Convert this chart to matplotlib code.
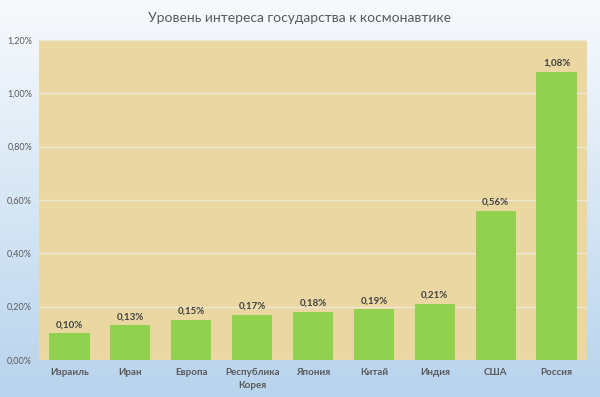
import numpy as np
import matplotlib
matplotlib.use('Agg')
import matplotlib.pyplot as plt

# data
countries = ['Израиль', 'Иран', 'Европа', 'Республика\nКорея', 'Япония',
             'Китай', 'Индия', 'США', 'Россия']
values = [0.10, 0.13, 0.15, 0.17, 0.18, 0.19, 0.21, 0.56, 1.08]
y_ticks = [0.0, 0.2, 0.4, 0.6, 0.8, 1.0, 1.2]

plt.rcParams['font.family'] = ['Lato', 'DejaVu Sans']

fig = plt.figure(figsize=(6.0, 3.97), dpi=100)

# background gradient, whitish top -> light blue bottom
bg = fig.add_axes([0, 0, 1, 1], zorder=-10)
grad = np.linspace(0, 1, 256).reshape(-1, 1)
top = np.array([0.97, 0.98, 0.99])
bot = np.array([0.72, 0.83, 0.93])
img = top + (bot - top) * grad[..., None]
bg.imshow(img, aspect='auto', extent=[0, 1, 0, 1])
bg.axis('off')

ax = fig.add_axes([39 / 600, 1 - 360 / 397, 548 / 600, 320 / 397])
ax.set_facecolor('#ead7a2')
x = np.arange(len(countries))
ax.bar(x, values, width=0.66, color='#92d050', zorder=3)

ax.set_xlim(-0.5, len(countries) - 0.5)
ax.set_ylim(0, 1.2)
ax.set_yticks(y_ticks)
ax.set_yticklabels([('%.2f%%' % v).replace('.', ',') for v in y_ticks],
                   fontsize=6.5, color='#595959')
ax.yaxis.grid(True, color='#f0e8d4', linewidth=1, zorder=1)
ax.set_axisbelow(True)
ax.set_xticks(x)
ax.set_xticklabels(countries, fontsize=7, fontweight='bold', color='#595959',
                   linespacing=1.55)
ax.tick_params(axis='x', length=0, pad=6)
ax.tick_params(axis='y', length=0, pad=5)
for s in ax.spines.values():
    s.set_visible(False)

for xi, v in zip(x, values):
    ax.annotate(('%.2f%%' % v).replace('.', ','), (xi, v), xytext=(0, 3),
                textcoords='offset points', ha='center', va='bottom',
                fontsize=7, fontweight='bold', color='#404040')

fig.text(0.5, 1 - 18 / 397, 'Уровень интереса государства к космонавтике',
         ha='center', va='center', fontsize=10, color='#595959')

fig.savefig('out.png', dpi=100)
